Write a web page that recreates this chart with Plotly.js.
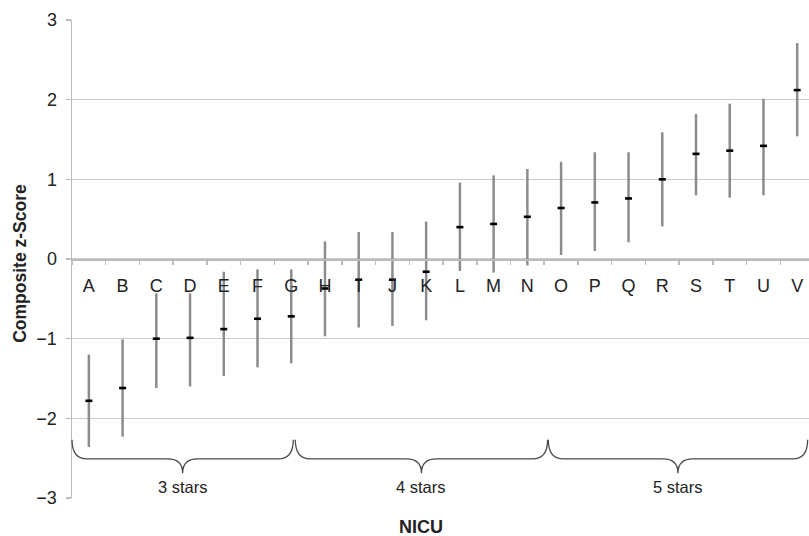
<!DOCTYPE html>
<html>
<head>
<meta charset="utf-8">
<script src="https://cdn.plot.ly/plotly-3.0.1.min.js"></script>
<style>html,body{margin:0;padding:0;background:#fff;}#chart{width:809px;height:536px;}</style>
</head>
<body>
<div id="chart"></div>
<script>
// ---- data ----
const categories = ['A','B','C','D','E','F','G','H','I','J','K','L','M','N','O','P','Q','R','S','T','U','V'];
const means = [-1.78,-1.62,-1.00,-0.99,-0.88,-0.75,-0.72,-0.37,-0.26,-0.26,-0.16,0.40,0.44,0.53,0.64,0.71,0.76,1.00,1.32,1.36,1.42,2.12];
const upper = [-1.20,-1.01,-0.43,-0.43,-0.16,-0.13,-0.13,0.22,0.34,0.34,0.47,0.96,1.05,1.13,1.22,1.34,1.34,1.59,1.82,1.95,2.01,2.71];
const lower = [-2.36,-2.23,-1.62,-1.60,-1.47,-1.36,-1.31,-0.97,-0.86,-0.84,-0.77,-0.15,-0.17,-0.08,0.05,0.10,0.21,0.41,0.80,0.77,0.80,1.54];
const groupLabels = ['3 stars','4 stars','5 stars'];
const yTickVals = [-3,-2,-1,0,1,2,3];

// ---- layout constants ----
const X0 = -0.5, X1 = 21.35;           // visible category range (right side cropped)
const braceSpans = [[-0.5, 6.06], [6.12, 13.6], [13.62, 21.31]];
const toPaper = i => (i - X0) / (X1 - X0);
const yTop = -2.27, yMid = -2.51, yTip = -2.69;
const dxPaper = 15 / 737;
const FONT = 'Liberation Sans, Arial, sans-serif';

const shapes = braceSpans.map(([a, b]) => {
  const x0 = toPaper(a), x1 = toPaper(b), xc = (x0 + x1) / 2;
  const path = `M ${x0},${yTop} Q ${x0},${yMid} ${x0 + dxPaper},${yMid} ` +
               `L ${xc - dxPaper},${yMid} Q ${xc},${yMid} ${xc},${yTip} ` +
               `Q ${xc},${yMid} ${xc + dxPaper},${yMid} ` +
               `L ${x1 - dxPaper},${yMid} Q ${x1},${yMid} ${x1},${yTop}`;
  return {type: 'path', xref: 'paper', yref: 'y', path: path,
          line: {color: '#4a4a4a', width: 1.3}};
});

const annotations = braceSpans.map(([a, b], k) => ({
  xref: 'paper', yref: 'y', x: (toPaper(a) + toPaper(b)) / 2, y: -2.86,
  text: groupLabels[k], showarrow: false, xanchor: 'center', yanchor: 'middle',
  font: {family: FONT, size: 16.5, color: '#222'}
}));
annotations.push({
  xref: 'paper', yref: 'paper', x: toPaper(9.85), y: -0.06,
  text: '<b>NICU</b>', showarrow: false, xanchor: 'center', yanchor: 'middle',
  font: {family: FONT, size: 18, color: '#222'}
});
annotations.push({
  xref: 'paper', yref: 'paper', x: -52 / 737, y: 0.49,
  text: '<b>Composite z-Score</b>', showarrow: false, textangle: -90,
  xanchor: 'center', yanchor: 'middle',
  font: {family: FONT, size: 17.5, color: '#222'}
});

const trace = {
  type: 'scatter', mode: 'markers', x: categories, y: means,
  marker: {symbol: 'line-ew', size: 5, color: '#000', line: {color: '#000', width: 2.6}},
  error_y: {
    type: 'data', symmetric: false,
    array: upper.map((u, i) => u - means[i]),
    arrayminus: lower.map((l, i) => means[i] - l),
    width: 0, thickness: 2.5, color: '#8c8c8c'
  },
  hoverinfo: 'x+y'
};

const layout = {
  width: 809, height: 536,
  margin: {l: 72, r: 0, t: 20, b: 38},
  paper_bgcolor: '#fff', plot_bgcolor: '#fff',
  showlegend: false,
  font: {family: FONT, color: '#222'},
  xaxis: {
    type: 'category', range: [X0, X1], anchor: 'free', position: 0.5,
    tickson: 'boundaries', ticks: 'outside', ticklen: 4, tickwidth: 1.5, tickcolor: '#bbbbbb',
    showline: true, linecolor: '#bbbbbb', linewidth: 1.5,
    showgrid: false, zeroline: false,
    ticklabelstandoff: 10,
    tickfont: {size: 18, color: '#222'}
  },
  yaxis: {
    range: [-3, 3], tickvals: yTickVals, ticktext: yTickVals.map(v => v < 0 ? '\u2212' + Math.abs(v) : String(v)),
    showgrid: true, gridcolor: '#cccccc', gridwidth: 1.5,
    zeroline: false, showline: true, linecolor: '#bbbbbb', linewidth: 1.5,
    ticks: 'outside', ticklen: 5, tickwidth: 1.5, tickcolor: '#bbbbbb',
    ticklabelstandoff: 5,
    tickfont: {size: 18, color: '#222'}
  },
  shapes: shapes,
  annotations: annotations
};

Plotly.newPlot('chart', [trace], layout, {displayModeBar: false, staticPlot: true});
</script>
</body>
</html>
